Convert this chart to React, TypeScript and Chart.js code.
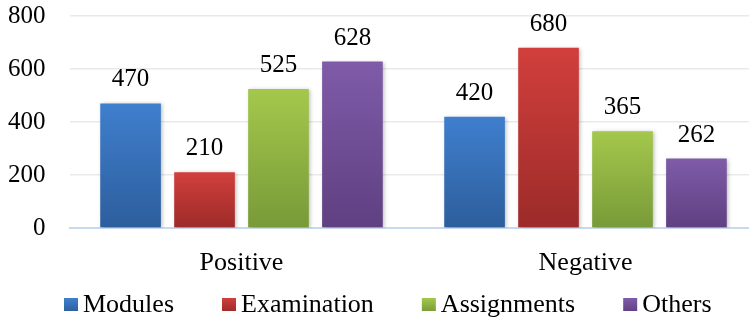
import React, { useEffect, useRef } from "react";
import { Chart, registerables } from "chart.js";

Chart.register(...registerables);

const categories = ["Positive", "Negative"];
const seriesNames = ["Modules", "Examination", "Assignments", "Others"];
const modulesValues = [470, 420];
const examinationValues = [210, 680];
const assignmentsValues = [525, 365];
const othersValues = [628, 262];
const yMin = 0;
const yMax = 800;
const yStep = 200;

const topColors = ["#3f7fce", "#d13f3c", "#a4c84c", "#7f5ba9"];
const bottomColors = ["#2d5e9c", "#9c2b29", "#789a38", "#5f4081"];

const FONT = "'Liberation Serif', 'Times New Roman', serif";

function barGradient(i: number) {
  return (ctx: any) => {
    const chart = ctx.chart;
    const y = chart.scales && chart.scales.y;
    if (!chart.chartArea || !y || ctx.type !== "data" || ctx.raw == null) return topColors[i];
    const yTop = y.getPixelForValue(ctx.raw);
    const yBot = y.getPixelForValue(0);
    if (!isFinite(yTop) || !isFinite(yBot) || yTop === yBot) return topColors[i];
    const g = chart.ctx.createLinearGradient(0, yTop, 0, yBot);
    g.addColorStop(0, topColors[i]);
    g.addColorStop(1, bottomColors[i]);
    return g;
  };
}

const shadowPlugin = {
  id: "barShadow",
  beforeDatasetDraw(chart: any) {
    const c = chart.ctx;
    c.save();
    c.shadowColor = "rgba(0,0,0,0.28)";
    c.shadowBlur = 4;
    c.shadowOffsetX = 1.5;
    c.shadowOffsetY = 1;
  },
  afterDatasetDraw(chart: any) {
    chart.ctx.restore();
  },
};

const valueLabelPlugin = {
  id: "valueLabels",
  afterDatasetsDraw(chart: any) {
    const c = chart.ctx;
    c.save();
    c.font = `25px ${FONT}`;
    c.fillStyle = "#000";
    c.textAlign = "center";
    c.textBaseline = "alphabetic";
    chart.data.datasets.forEach((ds: any, di: number) => {
      const meta = chart.getDatasetMeta(di);
      meta.data.forEach((el: any, idx: number) => {
        c.fillText(String(ds.data[idx]), el.x, el.y - 17);
      });
    });
    c.restore();
  },
};

const legendPlugin = {
  id: "customLegend",
  afterDraw(chart: any) {
    const c = chart.ctx;
    c.save();
    c.font = `26px ${FONT}`;
    c.textBaseline = "alphabetic";
    c.textAlign = "left";
    const box = 14;
    const gapBoxText = 5;
    const gapItems = 48;
    let x = 64;
    const baseline = chart.chartArea.bottom + 84;
    const boxTop = baseline - 14;
    seriesNames.forEach((name, i) => {
      const g = c.createLinearGradient(0, boxTop, 0, boxTop + box);
      g.addColorStop(0, topColors[i]);
      g.addColorStop(1, bottomColors[i]);
      c.fillStyle = g;
      c.fillRect(x, boxTop, box, box - 1);
      x += box + gapBoxText;
      c.fillStyle = "#000";
      c.fillText(name, x, baseline);
      x += c.measureText(name).width + gapItems;
    });
    c.restore();
  },
};

export default function App() {
  const ref = useRef<HTMLCanvasElement | null>(null);

  useEffect(() => {
    document.body.style.margin = "0";
    if (!ref.current) return;
    const allValues = [modulesValues, examinationValues, assignmentsValues, othersValues];
    const chart = new Chart(ref.current, {
      type: "bar",
      data: {
        labels: categories,
        datasets: seriesNames.map((name, i) => ({
          label: name,
          data: allValues[i],
          backgroundColor: barGradient(i),
          borderWidth: 0,
          categoryPercentage: 0.86,
          barPercentage: 0.82,
        })),
      },
      options: {
        responsive: false,
        animation: false,
        layout: { padding: { top: 16, right: 2.5, bottom: 0, left: 0 } },
        plugins: {
          legend: { display: false },
          tooltip: { enabled: false },
        },
        scales: {
          x: {
            offset: true,
            grid: { display: false, drawTicks: false },
            border: { display: true, color: "#c8d8ee", width: 2 },
            ticks: {
              color: "#000",
              font: { family: FONT, size: 26 },
              padding: 20,
            },
            afterFit(s: any) {
              s.height = 91;
              s.paddingLeft = 0;
              s.paddingRight = 0;
            },
          },
          y: {
            min: yMin,
            max: yMax,
            ticks: {
              stepSize: yStep,
              color: "#000",
              font: { family: FONT, size: 25 },
              padding: 24,
            },
            grid: {
              drawTicks: false,
              color: "#e9e9e9",
              lineWidth: 1.5,
            },
            border: { display: false },
            afterFit(s: any) {
              s.width = 69.5;
              s.paddingTop = 0;
              s.paddingBottom = 0;
            },
          },
        },
      },
      plugins: [shadowPlugin, valueLabelPlugin, legendPlugin],
    });
    return () => chart.destroy();
  }, []);

  return (
    <div style={{ width: 749, height: 319, overflow: "hidden", background: "#fff" }}>
      <canvas ref={ref} width={760} height={319} style={{ display: "block" }} />
    </div>
  );
}
